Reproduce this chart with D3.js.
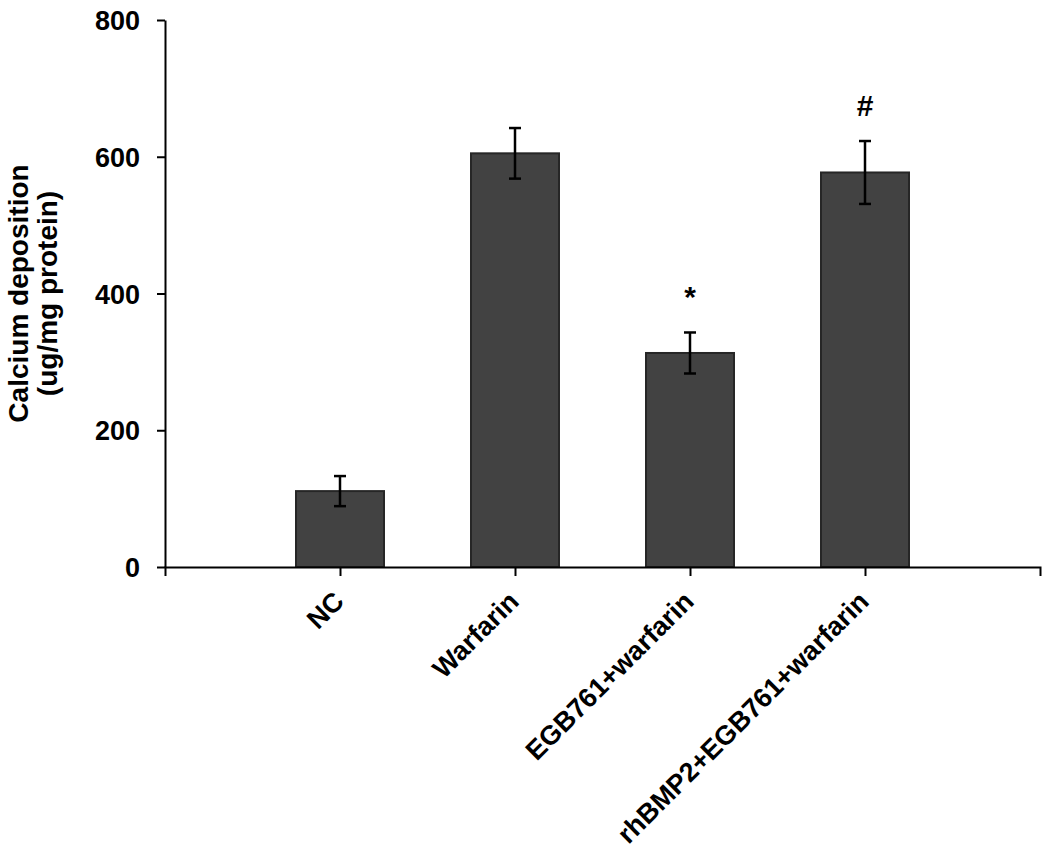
<!DOCTYPE html>
<html>
<head>
<meta charset="utf-8">
<script src="https://cdn.jsdelivr.net/npm/d3@7"></script>
<style>
  body { margin: 0; background: #fff; }
  svg text { font-family: "Liberation Sans", Arial, sans-serif; font-weight: bold; fill: #000; }
</style>
</head>
<body>
<svg id="chart" width="1050" height="863"></svg>
<script>
const categories = ['NC', 'Warfarin', 'EGB761+warfarin', 'rhBMP2+EGB761+warfarin']
const means = [111, 605, 313, 577]
const errors = [22, 37, 30, 46]
const marks = ['', '', '*', '#']
const yTicks = [0, 200, 400, 600, 800]

const svg = d3.select('#chart')
const plotLeft = 165, plotRight = 1040, plotTop = 20, plotBottom = 567

const x = d3.scalePoint().domain(categories).range([plotLeft, plotRight]).padding(1)
const y = d3.scaleLinear().domain([0, 800]).range([plotBottom, plotTop])
const barW = 88

// y axis
const yAxis = svg.append('g').attr('transform', `translate(${plotLeft},0)`)
  .call(d3.axisLeft(y).tickValues(yTicks).tickSize(8).tickSizeOuter(0).tickPadding(17))
yAxis.selectAll('path, line').attr('stroke', '#000').attr('stroke-width', 2)
yAxis.selectAll('text').attr('font-size', 27).attr('font-family', null).attr('dy', '0.36em')

// bars
const g = svg.append('g')
g.selectAll('rect').data(means).enter().append('rect')
  .attr('x', (d, i) => x(categories[i]) - barW / 2)
  .attr('y', d => y(d))
  .attr('width', barW)
  .attr('height', d => plotBottom - y(d))
  .attr('fill', '#424242')
  .attr('stroke', '#262626')
  .attr('stroke-width', 2)

// error bars
const eb = g.selectAll('.eb').data(means).enter().append('g').attr('class', 'eb')
  .attr('stroke', '#000').attr('stroke-width', 2.5)
eb.append('line')
  .attr('x1', (d, i) => x(categories[i])).attr('x2', (d, i) => x(categories[i]))
  .attr('y1', (d, i) => y(d + errors[i])).attr('y2', (d, i) => y(d - errors[i]))
eb.append('line')
  .attr('x1', (d, i) => x(categories[i]) - 6).attr('x2', (d, i) => x(categories[i]) + 6)
  .attr('y1', (d, i) => y(d + errors[i])).attr('y2', (d, i) => y(d + errors[i]))
eb.append('line')
  .attr('x1', (d, i) => x(categories[i]) - 6).attr('x2', (d, i) => x(categories[i]) + 6)
  .attr('y1', (d, i) => y(d - errors[i])).attr('y2', (d, i) => y(d - errors[i]))

// significance marks
g.selectAll('.mark').data(means).enter().append('text').attr('class', 'mark')
  .attr('x', (d, i) => x(categories[i]))
  .attr('y', (d, i) => y(d + errors[i]) - 25)
  .attr('text-anchor', 'middle')
  .attr('font-size', 30)
  .text((d, i) => marks[i])

// x axis
const xAxis = svg.append('g').attr('transform', `translate(0,${plotBottom})`)
  .call(d3.axisBottom(x).tickSize(9).tickSizeOuter(9))
xAxis.selectAll('path, line').attr('stroke', '#000').attr('stroke-width', 2)
xAxis.selectAll('text')
  .attr('font-size', 27).attr('font-family', null)
  .attr('text-anchor', 'end')
  .attr('y', 0).attr('dy', 0)
  .attr('transform', 'translate(5,36) rotate(-45)')

// y axis title
const yt = svg.append('text')
  .attr('transform', `translate(28,${(plotTop + plotBottom) / 2}) rotate(-90)`)
  .attr('text-anchor', 'middle')
  .attr('font-size', 28)
yt.append('tspan').attr('x', 0).attr('dy', 0).text('Calcium deposition')
yt.append('tspan').attr('x', 0).attr('dy', 29).text('(ug/mg protein)')
</script>
</body>
</html>
